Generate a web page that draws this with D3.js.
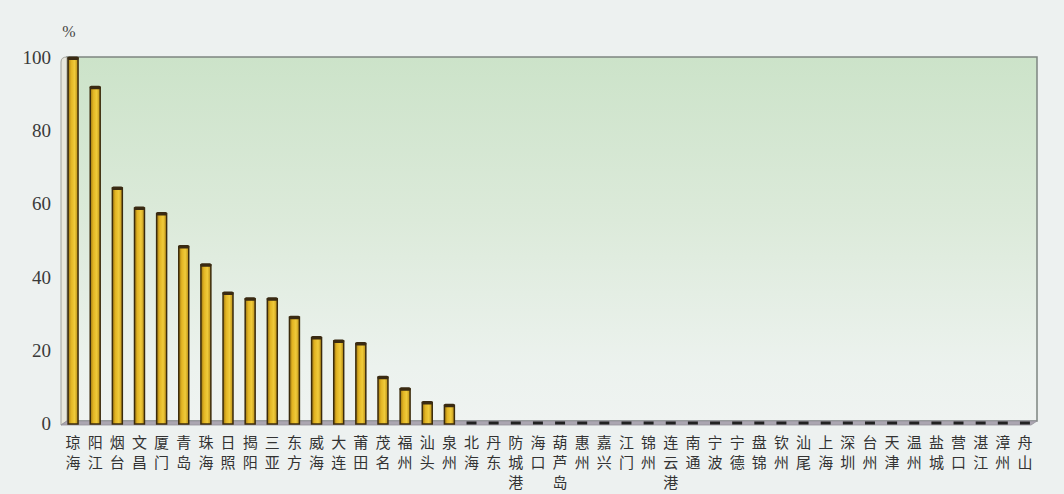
<!DOCTYPE html>
<html>
<head>
<meta charset="utf-8">
<script src="https://cdn.jsdelivr.net/npm/d3@7"></script>
<style>
  html, body { margin: 0; padding: 0; background: #edf1f0; }
  svg { display: block; }
</style>
</head>
<body>
<svg id="chart" width="1064" height="494"></svg>
<script>
// Port cities (names stacked vertically, one character per row)
const cities = [
  "琼海","阳江","烟台","文昌","厦门","青岛","珠海","日照","揭阳","三亚","东方",
  "威海","大连","莆田","茂名","福州","汕头","泉州","北海","丹东","防城港","海口",
  "葫芦岛","惠州","嘉兴","江门","锦州","连云港","南通","宁波","宁德","盘锦","钦州",
  "汕尾","上海","深圳","台州","天津","温州","盐城","营口","湛江","漳州","舟山"
];
// Share, percent
const shares = [
  100, 92, 64.5, 59, 57.5, 48.5, 43.5, 35.8, 34.2, 34.2, 29.2,
  23.6, 22.7, 22, 12.8, 9.6, 5.9, 5.1, 0, 0, 0, 0,
  0, 0, 0, 0, 0, 0, 0, 0, 0, 0, 0,
  0, 0, 0, 0, 0, 0, 0, 0, 0, 0, 0
];
const yTicks = [0, 20, 40, 60, 80, 100];

const svg = d3.select("#chart");
const x = d3.scaleBand().domain(cities).range([62, 1036]).paddingInner(0.55).paddingOuter(0.275);
const y = d3.scaleLinear().domain([0, 100]).range([424, 58]);

const defs = svg.append("defs");
const bg = defs.append("linearGradient").attr("id", "wall").attr("x1", 0).attr("y1", 0).attr("x2", 0).attr("y2", 1);
bg.append("stop").attr("offset", "0%").attr("stop-color", "#cce3c9");
bg.append("stop").attr("offset", "45%").attr("stop-color", "#dceadA".toLowerCase());
bg.append("stop").attr("offset", "85%").attr("stop-color", "#ecf2ee");
bg.append("stop").attr("offset", "100%").attr("stop-color", "#eff3f1");

const barGrad = defs.append("linearGradient").attr("id", "bar").attr("x1", 0).attr("y1", 0).attr("x2", 1).attr("y2", 0);
barGrad.append("stop").attr("offset", "0%").attr("stop-color", "#9a7410");
barGrad.append("stop").attr("offset", "30%").attr("stop-color", "#e2b423");
barGrad.append("stop").attr("offset", "65%").attr("stop-color", "#f0cb3a");
barGrad.append("stop").attr("offset", "100%").attr("stop-color", "#b88c16");

const wallL = 67, wallR = 1037, wallT = y(100) - 1, floorY = y(0) - 3, depth = 6;

// back wall
svg.append("rect")
  .attr("x", wallL).attr("y", wallT)
  .attr("width", wallR - wallL).attr("height", floorY - wallT)
  .attr("fill", "url(#wall)")
  .attr("stroke", "#7d8580").attr("stroke-width", 1.5);

// side wall
svg.append("path")
  .attr("d", `M${wallL - depth},${wallT + 5} Q${wallL - depth},${wallT} ${wallL},${wallT} L${wallL},${floorY} L${wallL - depth},${floorY + 4} Z`)
  .attr("fill", "#e8e7dc").attr("stroke", "#a3a39c").attr("stroke-width", 1);

// floor
svg.append("path")
  .attr("d", `M${wallL - depth},${floorY + 4} L${wallL},${floorY} L${wallR},${floorY} L${wallR - depth},${floorY + 4} Z`)
  .attr("fill", "#aba6b1").attr("stroke", "#96929b").attr("stroke-width", 0.8);

// y axis labels
svg.append("g").selectAll("text").data(yTicks).join("text")
  .attr("x", 51).attr("y", d => y(d) + 6)
  .attr("text-anchor", "end")
  .attr("font-family", "Liberation Serif, serif")
  .attr("font-size", 19)
  .attr("fill", "#3a3a3a")
  .text(d => d);

svg.append("text")
  .attr("x", 69).attr("y", 37)
  .attr("text-anchor", "middle")
  .attr("font-family", "Liberation Serif, serif")
  .attr("font-size", 16)
  .attr("fill", "#444")
  .text("%");

// bars
const data = cities.map((c, i) => ({ c, v: shares[i] }));
const bars = svg.append("g");
bars.selectAll("rect.bar").data(data.filter(d => d.v > 0)).join("rect")
  .attr("class", "bar")
  .attr("x", d => x(d.c)).attr("width", x.bandwidth())
  .attr("y", d => y(d.v)).attr("height", d => y(0) - y(d.v))
  .attr("fill", "url(#bar)")
  .attr("stroke", "#3b2b0c").attr("stroke-width", 1.5);
// top caps
bars.selectAll("rect.cap").data(data.filter(d => d.v > 0)).join("rect")
  .attr("class", "cap")
  .attr("x", d => x(d.c) - 0.5).attr("width", x.bandwidth() + 1)
  .attr("y", d => y(d.v) - 1.5).attr("height", 3.5)
  .attr("rx", 1.5)
  .attr("fill", "#3a2a12");
// zero-value markers on the floor
bars.selectAll("rect.zero").data(data.filter(d => d.v === 0)).join("rect")
  .attr("class", "zero")
  .attr("x", d => x(d.c)).attr("width", x.bandwidth())
  .attr("y", y(0) - 2.5).attr("height", 3)
  .attr("fill", "#222");

// category labels, one character per line
const lab = svg.append("g")
  .attr("font-family", "Noto Sans CJK SC, sans-serif")
  .attr("font-size", 15)
  .attr("fill", "#333");
cities.forEach(c => {
  const cx = x(c) + x.bandwidth() / 2;
  Array.from(c).forEach((ch, k) => {
    lab.append("text")
      .attr("x", cx).attr("y", 448 + k * 20)
      .attr("text-anchor", "middle")
      .text(ch);
  });
});
</script>
</body>
</html>
